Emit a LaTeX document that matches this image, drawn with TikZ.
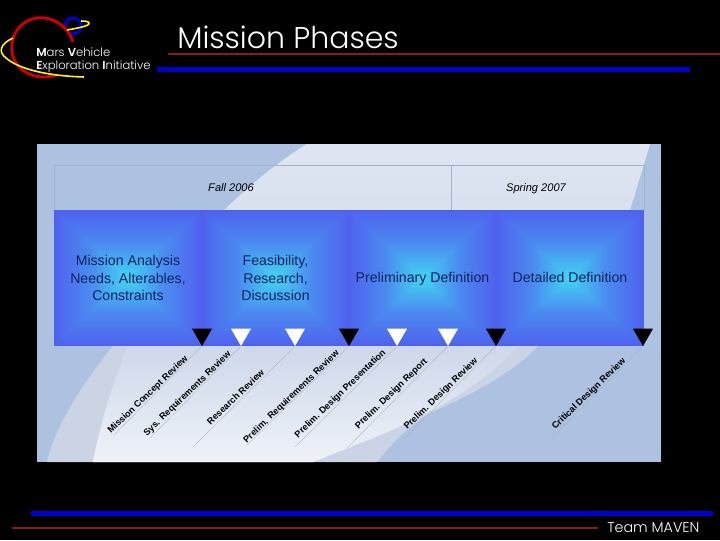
\documentclass[tikz,border=0pt]{standalone}
\usepackage{fontspec}
\setmainfont{Liberation Sans}
\newfontfamily\headfont[BoldFont={Poppins SemiBold}]{Poppins Light}
\usetikzlibrary{shapes.geometric,positioning}
\definecolor{panelblue}{HTML}{ADC2E0}
\definecolor{swooshtop}{HTML}{DFE5F1}
\definecolor{swooshmid}{HTML}{CDD8EB}
\definecolor{swooshpale}{HTML}{EFF2F7}
\definecolor{swooshgrey}{HTML}{CBD4E5}
\definecolor{phaseedge}{HTML}{4F62EE}
\definecolor{phasemid}{HTML}{4A8CF0}
\definecolor{phasecore}{HTML}{42D6F2}
\definecolor{phasetext}{HTML}{14215E}
\definecolor{rulered}{HTML}{8B1A1A}
\definecolor{ruleblue}{HTML}{0000CC}
\tikzset{
  marker/.style={regular polygon, regular polygon sides=3, shape border rotate=180,
    minimum size=17.3pt, inner sep=0pt, outer sep=0pt},
  majormark/.style={marker, fill=black},
  minormark/.style={marker, fill=white},
  leader/.style={draw=black!18!swooshgrey, line width=0.2pt},
  review/.style={font=\fontsize{6.85}{9}\selectfont\bfseries, rotate=44, inner sep=0pt},
  phase/.style={font=\fontsize{10.6}{12.9}\selectfont, text=phasetext, align=center},
  term/.style={font=\fontsize{8.3}{9}\selectfont\itshape, anchor=base},
  logotext/.style={font=\fontsize{8.7}{9}\headfont, text=white, anchor=west, inner sep=0pt}
}
% one phase block: nested rectangles from edge to core
\newcommand{\phasebox}[3]{
  \foreach \i in {0,...,39}{
    \pgfmathsetmacro{\f}{\i/40}
    \pgfmathsetmacro{\mixa}{min(100,\f*200)}
    \pgfmathsetmacro{\mixb}{max(0,(\f-0.5)*200)}
    \colorlet{stepcol}{phasecore!\mixb!phasemid}
    \ifdim\f pt<0.5pt \colorlet{stepcol}{phasemid!\mixa!phaseedge}\fi
    \fill[stepcol] (#1+\f*#3/2,#2+\f*136/2) rectangle (#1+#3-\f*#3/2,#2+136-\f*136/2);
  }
}
\begin{document}
\begin{tikzpicture}[x=0.75pt,y=-0.75pt]
  \useasboundingbox (0,0) rectangle (720,540);
  \fill[black] (0,0) rectangle (720,540);

  % logo
  \draw[ruleblue, line width=2.2pt] (73,26) circle (8);
  \draw[red!80!black, line width=2.2pt] (73,42) .. controls (64,14) and (26,8) .. (14,36)
    .. controls (4,62) and (28,84) .. (57,75);
  \draw[yellow!90!white, line width=1.2pt] (67,30) .. controls (78,28) and (90,26) .. (89,23)
    .. controls (88,21) and (84,21) .. (81,21);
  \draw[yellow!90!white, line width=1.2pt] (13,38) .. controls (0,44) and (-2,52) .. (6,58)
    .. controls (20,70) and (50,76) .. (84,77);
  \node[logotext] (logoa) at (36,52) {\textbf{M}ars \textbf{V}ehicle};
  \node[logotext] (logob) at (36,67) {\textbf{E}xploration \textbf{I}nitiative};

  % title
  \node[font=\fontsize{22.5}{27}\headfont, text=white, anchor=west, inner sep=0pt] (title) at (177,37) {Mission Phases};
  \draw[rulered, line width=0.8pt] (168,54) -- (720,54);
  \fill[ruleblue] (157,66.5) rectangle (690,71.5);

  % panel
  \fill[panelblue] (37,144) rectangle (661,462);
  \begin{scope}
    \clip (37,144) rectangle (661,462);
    \fill[swooshgrey] (190,260) .. controls (140,310) and (60,400) .. (47,462)
      -- (93,462) -- (127,347) -- cycle;
    \fill[swooshgrey] (200,260) -- (127,347) .. controls (112,385) and (100,425) .. (93,462)
      -- (377,462) .. controls (395,440) and (410,425) .. (430,413)
      .. controls (470,395) and (510,375) .. (537,347) -- (630,210) -- (650,144) -- (307,144) -- cycle;
    \begin{scope}
      \clip (307,144) .. controls (255,175) and (160,260) .. (127,347)
        .. controls (112,385) and (100,425) .. (93,462) -- (313,462)
        .. controls (355,445) and (380,436) .. (407,423)
        .. controls (450,402) and (490,378) .. (517,347) -- (630,210) -- (650,144) -- cycle;
      \shade[top color=swooshtop, bottom color=swooshmid] (37,144) rectangle (661,347);
      \shade[top color=swooshmid, bottom color=swooshpale] (37,346.5) rectangle (661,462);
    \end{scope}
  \end{scope}

  % term band
  \draw[panelblue!92!black, line width=0.4pt] (54,165) rectangle (644,210);
  \draw[panelblue!92!black, line width=0.6pt] (451,165) -- (451,210);
  \node[term] (fall) at (231,191) {Fall 2006};
  \node[term] (spring) at (536,191) {Spring 2007};

  % phases
  \phasebox{54}{210}{148}
  \phasebox{202}{210}{147}
  \phasebox{349}{210}{147}
  \phasebox{496}{210}{148}
  \node[phase] (analysis) at (128,278) {Mission Analysis\\Needs, Alterables,\\Constraints};
  \node[phase] (feasibility) at (275.5,278) {Feasibility,\\Research,\\Discussion};
  \node[phase, anchor=base] (prelim) at (422.5,282.5) {Preliminary Definition};
  \node[phase, anchor=base] (detailed) at (570,282.5) {Detailed Definition};

  % reviews
  \node[majormark] (m1) at (202,334.5) {};
  \node[minormark] (m2) at (241,334.5) {};
  \node[minormark] (m3) at (295,334.5) {};
  \node[majormark] (m4) at (349,334.5) {};
  \node[minormark] (m5) at (397,334.5) {};
  \node[minormark] (m6) at (448,334.5) {};
  \node[majormark] (m7) at (496,334.5) {};
  \node[majormark] (m8) at (643,334.5) {};

  \foreach \a/\ex/\ey in {m1/114/435,m2/150/438,m3/193/447,m4/247/445,m5/295/447,m6/347/448,m7/404/439,m8/552/438}{
    \coordinate (\a end) at (\ex,\ey);
    \draw[leader] (\a.corner 1) -- (\a end);
  }

  \node[review] (r1) at (148,395) {Mission Concept Review};
  \node[review] (r2) at (187.5,394) {Sys. Requirements Review};
  \node[review] (r3) at (235.5,397) {Research Review};
  \node[review] (r4) at (291.5,397) {Prelim. Requirements Review};
  \node[review] (r5) at (340.5,394) {Prelim. Design Presentation};
  \node[review] (r6) at (391.5,394) {Prelim. Design Report};
  \node[review] (r7) at (441,394) {Prelim. Design Review};
  \node[review] (r8) at (589,394) {Critical Design Review};

  % footer
  \fill[ruleblue] (31,510.5) rectangle (713,515.5);
  \draw[rulered, line width=0.8pt] (12,528) -- (598,528);
  \node[font=\fontsize{10.7}{12}\headfont, text=white, anchor=west, inner sep=0pt] (team) at (607,528) {Team MAVEN};
\end{tikzpicture}
\end{document}
